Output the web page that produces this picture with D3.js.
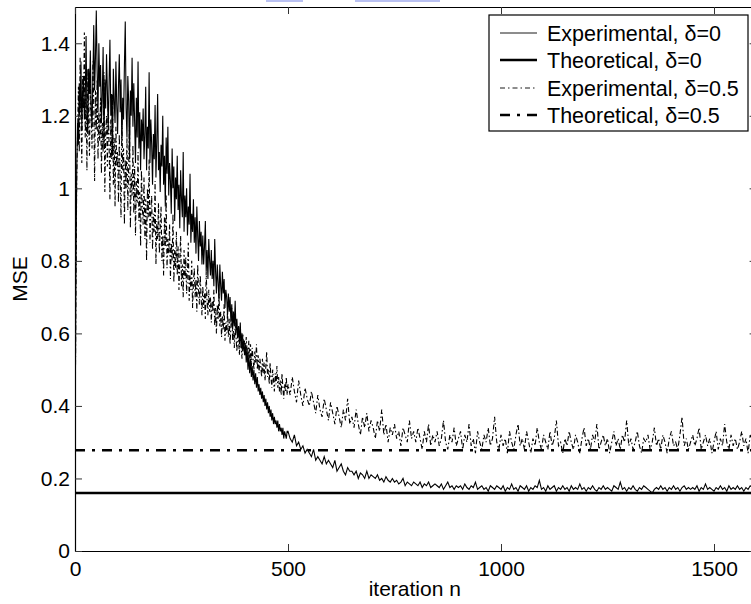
<!DOCTYPE html>
<html>
<head>
<meta charset="utf-8">
<script src="https://cdn.jsdelivr.net/npm/d3@7"></script>
<style>
    body { margin: 0; background: #fff; }
    text { font-family: "Liberation Sans", Arial, Helvetica, sans-serif; }
</style>
</head>
<body>
<div id="chart-area"></div>
<script>
// early phase read every 2 iterations (n = 0 .. 498),
// steady phase every 5 iterations (n = 500 .. 1600)
const earlyStep = 2;
const lateStart = 500;
const lateStep = 5;

// experimental MSE, delta = 0
const expDelta0Early = [
    0.25, 0.72, 1.05, 1.18, 1.12, 1.29, 1.21, 1.35, 1.16, 1.27,
    1.31, 1.19, 1.24, 1.42, 1.20, 1.15, 1.33, 1.26, 1.38, 1.22,
    1.17, 1.30, 1.45, 1.27, 1.36, 1.49, 1.32, 1.21, 1.40, 1.28,
    1.34, 1.18, 1.25, 1.39, 1.12, 1.30, 1.22, 1.37, 1.27, 1.16,
    1.29, 1.41, 1.20, 1.26, 1.09, 1.33, 1.24, 1.18, 1.35, 1.23,
    1.15, 1.28, 1.37, 1.21, 1.30, 1.13, 1.25, 1.19, 1.34, 1.46,
    1.22, 1.14, 1.31, 1.24, 1.08, 1.27, 1.20, 1.36, 1.17, 1.29,
    1.18, 1.07, 1.25, 1.14, 1.35, 1.11, 1.21, 1.05, 1.19, 1.13,
    1.22, 1.08, 1.15, 1.28, 1.05, 1.17, 1.11, 1.32, 1.07, 1.19,
    1.12, 1.01, 1.15, 1.08, 1.23, 1.03, 1.13, 1.26, 1.05, 1.10,
    0.99, 1.12, 1.06, 1.20, 1.01, 1.09, 0.95, 1.14, 1.04, 1.17,
    0.98, 1.07, 1.02, 0.93, 1.11, 1.00, 1.06, 0.91, 1.03, 0.97,
    1.09, 0.94, 1.01, 0.89, 1.05, 0.97, 0.92, 1.10, 0.88, 0.98,
    0.92, 1.00, 0.87, 0.95, 0.90, 1.04, 0.85, 0.93, 0.88, 0.97,
    0.85, 0.92, 0.82, 0.95, 0.87, 0.80, 0.91, 0.84, 0.88, 0.79,
    0.87, 0.79, 0.84, 0.91, 0.77, 0.83, 0.75, 0.86, 0.80, 0.76,
    0.83, 0.75, 0.80, 0.73, 0.86, 0.77, 0.71, 0.79, 0.74, 0.69,
    0.79, 0.73, 0.69, 0.77, 0.71, 0.75, 0.67, 0.72, 0.70, 0.65,
    0.71, 0.66, 0.70, 0.63, 0.68, 0.61, 0.66, 0.62, 0.69, 0.60,
    0.64, 0.59, 0.62, 0.57, 0.63, 0.56, 0.60, 0.55, 0.58, 0.54,
    0.57, 0.52, 0.56, 0.50, 0.54, 0.49, 0.53, 0.48, 0.51, 0.47,
    0.50, 0.46, 0.49, 0.45, 0.48, 0.44, 0.46, 0.43, 0.45, 0.42,
    0.44, 0.41, 0.43, 0.40, 0.42, 0.39, 0.41, 0.38, 0.40, 0.37,
    0.39, 0.36, 0.38, 0.35, 0.37, 0.35, 0.36, 0.34, 0.36, 0.33,
    0.35, 0.33, 0.34, 0.32, 0.34, 0.31, 0.33, 0.32, 0.31, 0.33
];
const expDelta0Late = [
    0.33, 0.31, 0.30, 0.32, 0.29, 0.30, 0.28, 0.29, 0.27, 0.28,
    0.27, 0.26, 0.28, 0.25, 0.26, 0.25, 0.24, 0.26, 0.24, 0.25,
    0.24, 0.23, 0.25, 0.22, 0.23, 0.24, 0.22, 0.21, 0.23, 0.22,
    0.22, 0.21, 0.22, 0.20, 0.215, 0.21, 0.20, 0.22, 0.20, 0.21,
    0.205, 0.20, 0.21, 0.195, 0.20, 0.19, 0.205, 0.195, 0.19, 0.20,
    0.19, 0.195, 0.185, 0.19, 0.20, 0.18, 0.19, 0.185, 0.18, 0.19,
    0.185, 0.18, 0.19, 0.175, 0.185, 0.18, 0.19, 0.175, 0.18, 0.185,
    0.18, 0.175, 0.185, 0.17, 0.18, 0.19, 0.175, 0.18, 0.17, 0.18,
    0.175, 0.18, 0.17, 0.185, 0.175, 0.17, 0.18, 0.175, 0.19, 0.17,
    0.175, 0.18, 0.17, 0.175, 0.165, 0.18, 0.175, 0.17, 0.18, 0.175,
    0.17, 0.18, 0.165, 0.175, 0.17, 0.185, 0.17, 0.175, 0.165, 0.18,
    0.175, 0.17, 0.18, 0.165, 0.175, 0.17, 0.18, 0.175, 0.195, 0.17,
    0.175, 0.165, 0.18, 0.17, 0.175, 0.18, 0.165, 0.175, 0.17, 0.18,
    0.17, 0.175, 0.165, 0.18, 0.17, 0.175, 0.17, 0.185, 0.17, 0.175,
    0.165, 0.175, 0.17, 0.18, 0.17, 0.165, 0.175, 0.17, 0.18, 0.17,
    0.175, 0.17, 0.165, 0.18, 0.175, 0.17, 0.19, 0.17, 0.175, 0.165,
    0.175, 0.17, 0.18, 0.17, 0.165, 0.175, 0.17, 0.18, 0.175, 0.17,
    0.165, 0.16, 0.17, 0.175, 0.17, 0.18, 0.17, 0.175, 0.165, 0.175,
    0.17, 0.18, 0.17, 0.175, 0.165, 0.175, 0.18, 0.17, 0.175, 0.17,
    0.175, 0.17, 0.18, 0.165, 0.175, 0.17, 0.185, 0.17, 0.175, 0.17,
    0.165, 0.175, 0.17, 0.18, 0.17, 0.175, 0.165, 0.18, 0.17, 0.175,
    0.17, 0.18, 0.17, 0.175, 0.165, 0.175, 0.17, 0.18, 0.175, 0.17,
    0.175
];

// experimental MSE, delta = 0.5
const expDelta05Early = [
    0.26, 0.68, 1.02, 1.15, 1.28, 1.10, 1.36, 1.19, 1.07, 1.31,
    1.22, 1.43, 1.14, 1.26, 1.05, 1.33, 1.18, 1.09, 1.29, 1.20,
    1.11, 1.35, 1.23, 1.02, 1.27, 1.16, 1.30, 1.08, 1.21, 1.13,
    1.25, 1.04, 1.18, 1.10, 1.32, 0.99, 1.15, 1.20, 1.06, 1.24,
    1.12, 0.97, 1.19, 1.08, 1.26, 1.01, 1.14, 0.95, 1.17, 1.06,
    1.10, 0.96, 1.15, 1.03, 0.92, 1.20, 1.05, 1.11, 0.90, 1.08,
    1.00, 1.14, 0.94, 1.07, 1.18, 0.89, 1.04, 0.98, 1.12, 0.93,
    1.06, 0.87, 1.02, 0.96, 1.10, 0.91, 0.99, 0.84, 1.05, 0.95,
    0.90, 1.03, 0.86, 0.97, 0.80, 1.00, 0.92, 1.08, 0.85, 0.94,
    0.98, 0.83, 0.93, 0.88, 1.02, 0.79, 0.91, 0.86, 0.96, 0.82,
    0.89, 0.95, 0.80, 0.87, 0.76, 0.92, 0.84, 0.98, 0.78, 0.86,
    0.82, 0.90, 0.75, 0.85, 0.80, 0.93, 0.74, 0.83, 0.78, 0.88,
    0.76, 0.84, 0.72, 0.80, 0.87, 0.73, 0.79, 0.70, 0.83, 0.75,
    0.81, 0.71, 0.77, 0.85, 0.69, 0.76, 0.72, 0.80, 0.67, 0.74,
    0.78, 0.70, 0.75, 0.66, 0.79, 0.72, 0.68, 0.76, 0.70, 0.65,
    0.73, 0.67, 0.71, 0.64, 0.77, 0.69, 0.65, 0.72, 0.66, 0.70,
    0.63, 0.69, 0.66, 0.72, 0.62, 0.67, 0.60, 0.68, 0.64, 0.71,
    0.62, 0.66, 0.59, 0.65, 0.61, 0.68, 0.58, 0.63, 0.60, 0.66,
    0.59, 0.64, 0.57, 0.62, 0.67, 0.58, 0.61, 0.56, 0.63, 0.59,
    0.55, 0.61, 0.58, 0.54, 0.62, 0.57, 0.53, 0.60, 0.56, 0.58,
    0.54, 0.59, 0.55, 0.52, 0.58, 0.53, 0.57, 0.51, 0.56, 0.53,
    0.50, 0.55, 0.52, 0.57, 0.50, 0.54, 0.49, 0.53, 0.51, 0.48,
    0.53, 0.49, 0.52, 0.47, 0.51, 0.55, 0.48, 0.50, 0.46, 0.52,
    0.48, 0.45, 0.50, 0.47, 0.44, 0.49, 0.46, 0.51, 0.45, 0.48,
    0.44, 0.47, 0.43, 0.49, 0.45, 0.42, 0.46, 0.44, 0.48, 0.43
];
const expDelta05Late = [
    0.46, 0.43, 0.48, 0.44, 0.41, 0.47, 0.43, 0.40, 0.45, 0.42,
    0.40, 0.44, 0.41, 0.38, 0.43, 0.39, 0.37, 0.42, 0.39, 0.36,
    0.41, 0.38, 0.35, 0.40, 0.37, 0.34, 0.39, 0.36, 0.42, 0.35,
    0.37, 0.34, 0.39, 0.35, 0.32, 0.37, 0.34, 0.38, 0.33, 0.36,
    0.34, 0.31, 0.36, 0.33, 0.39, 0.32, 0.35, 0.30, 0.34, 0.32,
    0.35, 0.31, 0.33, 0.29, 0.34, 0.32, 0.30, 0.36, 0.31, 0.33,
    0.30, 0.34, 0.31, 0.28, 0.33, 0.30, 0.35, 0.29, 0.32, 0.30,
    0.33, 0.29, 0.31, 0.36, 0.30, 0.28, 0.32, 0.30, 0.34, 0.29,
    0.31, 0.33, 0.28, 0.32, 0.30, 0.35, 0.29, 0.31, 0.27, 0.33,
    0.30, 0.28, 0.32, 0.30, 0.34, 0.29, 0.31, 0.37, 0.30, 0.28,
    0.32, 0.29, 0.31, 0.27, 0.33, 0.30, 0.28, 0.32, 0.35, 0.29,
    0.31, 0.28, 0.33, 0.30, 0.27, 0.31, 0.29, 0.34, 0.30, 0.28,
    0.32, 0.30, 0.28, 0.33, 0.29, 0.31, 0.36, 0.29, 0.30, 0.27,
    0.31, 0.29, 0.33, 0.30, 0.28, 0.32, 0.30, 0.27, 0.31, 0.34,
    0.29, 0.31, 0.28, 0.32, 0.30, 0.35, 0.28, 0.30, 0.32, 0.29,
    0.31, 0.27, 0.30, 0.33, 0.29, 0.31, 0.28, 0.32, 0.30, 0.36,
    0.29, 0.31, 0.28, 0.30, 0.33, 0.29, 0.27, 0.31, 0.30, 0.32,
    0.28, 0.30, 0.34, 0.29, 0.31, 0.28, 0.32, 0.30, 0.27, 0.31,
    0.33, 0.29, 0.30, 0.28, 0.32, 0.37, 0.29, 0.31, 0.28, 0.30,
    0.32, 0.29, 0.31, 0.34, 0.28, 0.30, 0.32, 0.29, 0.31, 0.27,
    0.30, 0.33, 0.28, 0.31, 0.29, 0.35, 0.30, 0.28, 0.32, 0.29,
    0.31, 0.28, 0.30, 0.33, 0.29, 0.31, 0.27, 0.32, 0.30, 0.34,
    0.30
];

// theoretical steady-state MSE
const theoDelta0 = 0.16;
const theoDelta05 = 0.278;

const xTicks = [0, 500, 1000, 1500];
const yTicks = [0, 0.2, 0.4, 0.6, 0.8, 1, 1.2, 1.4];

const legendLabels = [
    'Experimental, \u03b4=0',
    'Theoretical, \u03b4=0',
    'Experimental, \u03b4=0.5',
    'Theoretical, \u03b4=0.5'
];

// pair every value with its iteration number
const toPoints = (early, late) => early.map((v, i) => [i * earlyStep, v])
    .concat(late.map((v, i) => [lateStart + i * lateStep, v]));

// layout
const W = 751;
const H = 604;
const margin = { left: 75, top: 7, bottom: 53 };
const plotW = 681.6;   // right edge falls just outside the picture
const plotH = H - margin.top - margin.bottom;

const svg = d3.select('#chart-area')
    .append('svg')
        .attr('width', W)
        .attr('height', H);

// little bluish scraps along the top edge of the scan
svg.append('rect').attr('x', 266).attr('y', 0).attr('width', 37).attr('height', 2).attr('fill', '#b9c1f2');
svg.append('rect').attr('x', 355).attr('y', 0).attr('width', 85).attr('height', 2).attr('fill', '#b9c1f2');

const g = svg.append('g')
    .attr('transform', `translate(${margin.left}, ${margin.top})`);

const x = d3.scaleLinear()
    .domain([0, 1600])
    .range([0, plotW]);

const y = d3.scaleLinear()
    .domain([0, 1.5])
    .range([plotH, 0]);

g.append('clipPath')
    .attr('id', 'plot-clip')
    .append('rect')
        .attr('width', plotW)
        .attr('height', plotH);

const line = d3.line()
    .x(d => x(d[0]))
    .y(d => y(d[1]));

const plot = g.append('g').attr('clip-path', 'url(#plot-clip)');

// experimental curves
plot.append('path')
    .datum(toPoints(expDelta05Early, expDelta05Late))
    .attr('fill', 'none')
    .attr('stroke', '#000')
    .attr('stroke-width', 1.1)
    .attr('stroke-dasharray', '5,2.5,1.5,2.5')
    .attr('d', line);

plot.append('path')
    .datum(toPoints(expDelta0Early, expDelta0Late))
    .attr('fill', 'none')
    .attr('stroke', '#000')
    .attr('stroke-width', 1.1)
    .attr('d', line);

// theoretical levels
plot.append('path')
    .datum([[0, theoDelta0], [1600, theoDelta0]])
    .attr('fill', 'none')
    .attr('stroke', '#000')
    .attr('stroke-width', 2.6)
    .attr('d', line);

plot.append('path')
    .datum([[0, theoDelta05], [1600, theoDelta05]])
    .attr('fill', 'none')
    .attr('stroke', '#000')
    .attr('stroke-width', 2.6)
    .attr('stroke-dasharray', '10,7,3,7')
    .attr('d', line);

// axes, ticks pointing inward on all four sides
const fontSize = '21px';
const legendFont = '21.5px';

const xAxisCall = d3.axisBottom(x)
    .tickValues(xTicks)
    .tickSizeInner(-7)
    .tickSizeOuter(0)
    .tickPadding(10)
    .tickFormat(d3.format('d'));
g.append('g')
    .attr('class', 'x axis')
    .attr('transform', `translate(0, ${plotH})`)
    .call(xAxisCall);

const yAxisCall = d3.axisLeft(y)
    .tickValues(yTicks)
    .tickSizeInner(-7)
    .tickSizeOuter(0)
    .tickPadding(5)
    .tickFormat(d => d3.format('~g')(d));
g.append('g')
    .attr('class', 'y axis')
    .call(yAxisCall);

g.append('g')
    .attr('class', 'x axis top')
    .call(d3.axisTop(x).tickValues(xTicks).tickSizeInner(-7).tickSizeOuter(0).tickFormat(''));

g.append('g')
    .attr('class', 'y axis right')
    .attr('transform', `translate(${plotW}, 0)`)
    .call(d3.axisRight(y).tickValues(yTicks).tickSizeInner(-7).tickSizeOuter(0).tickFormat(''));

g.selectAll('.axis .domain')
    .attr('stroke', '#000')
    .attr('stroke-width', 1.2);
g.selectAll('.axis .tick line')
    .attr('stroke', '#333')
    .attr('stroke-width', 1);
g.selectAll('.axis text')
    .attr('fill', '#000')
    .attr('font-size', fontSize)
    .attr('font-family', '"Liberation Sans", Arial, sans-serif');

// x label
g.append('text')
    .attr('x', plotW / 2 - 1)
    .attr('y', plotH + 45)
    .attr('font-size', fontSize)
    .attr('text-anchor', 'middle')
    .text('iteration n');

// y label
g.append('text')
    .attr('x', -(plotH / 2))
    .attr('y', -48)
    .attr('font-size', fontSize)
    .attr('text-anchor', 'middle')
    .attr('transform', 'rotate(-90)')
    .text('MSE');

// legend
const legend = svg.append('g')
    .attr('transform', 'translate(489, 15)');

legend.append('rect')
    .attr('width', 259)
    .attr('height', 116)
    .attr('fill', '#fff')
    .attr('stroke', '#000')
    .attr('stroke-width', 1.2);

const legendStyle = [
    { w: 0.9, dash: null },
    { w: 2.6, dash: null },
    { w: 0.9, dash: '5,3,1.5,3' },
    { w: 2.6, dash: '10,7,3,7' }
];
const legendRows = [18, 45, 73, 100];

legendLabels.forEach((label, i) => {
    const row = legend.append('g')
        .attr('transform', `translate(0, ${legendRows[i]})`);
    row.append('line')
        .attr('x1', 11)
        .attr('x2', 48)
        .attr('stroke', '#000')
        .attr('stroke-width', legendStyle[i].w)
        .attr('stroke-dasharray', legendStyle[i].dash);
    row.append('text')
        .attr('x', 58)
        .attr('dy', '0.35em')
        .attr('font-size', legendFont)
        .text(label);
});
</script>
</body>
</html>
